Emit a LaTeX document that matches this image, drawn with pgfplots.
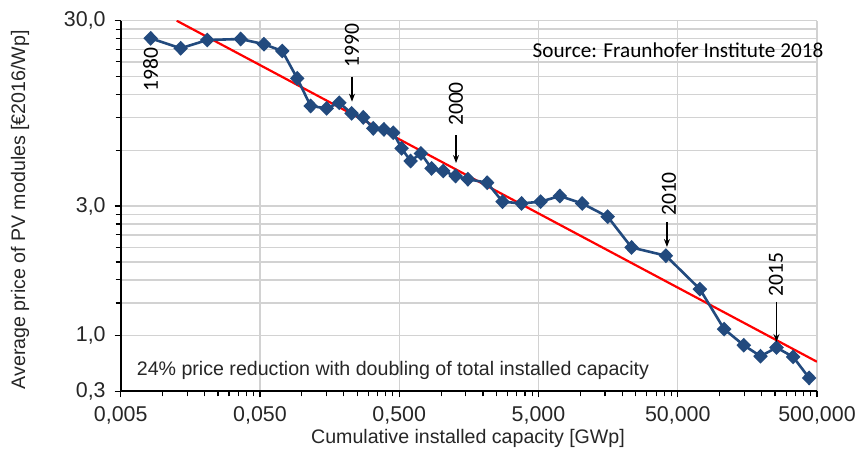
\documentclass[border=0pt]{standalone}
\usepackage{fontspec}
\setmainfont{Liberation Sans}
\newfontfamily\calib{Carlito}
\usepackage{pgfplots}
\pgfplotsset{compat=1.18}
\usetikzlibrary{arrows.meta}
\definecolor{pvblue}{RGB}{34,74,126}
\definecolor{gridgray}{RGB}{210,210,210}

\begin{document}
\begin{tikzpicture}
\path[use as bounding box] (-60.35pt,-31.25pt) rectangle (368.65pt,195.75pt);
\begin{axis}[
  at={(0,0)},anchor=south west,
  scale only axis,width=348.15pt,height=185.4pt,
  xmode=log,ymode=log,
  xmin=0.005,xmax=500,ymin=0.3,ymax=30,
  axis lines=left,axis line style={-,line width=1pt,black},
  xtick={0.005,0.05,0.5,5,50,500},
  xticklabels={{0,005},{0,050},{0,500},{5,000},{50,000},{500,000}},
  minor xtick={0.01,0.015,0.02,0.025,0.03,0.035,0.04,0.045,
               0.1,0.15,0.2,0.25,0.3,0.35,0.4,0.45,
               1,1.5,2,2.5,3,3.5,4,4.5,
               10,15,20,25,30,35,40,45,
               100,150,200,250,300,350,400,450},
  ytick={0.3,0.6,3,30},
  yticklabels={{0,3},{1,0},{3,0},{30,0}},
  minor ytick={0.9,1.2,1.5,1.8,2.1,2.4,2.7,6,9,12,15,18,21,24,27},
  tick align=outside,major tick length=3pt,minor tick length=2.5pt,
  tick style={black,line width=0.6pt},
  xmajorgrids,ymajorgrids,yminorgrids,
  major grid style={gridgray,line width=0.7pt},
  minor grid style={gridgray,line width=0.7pt},
  tick label style={font=\fontsize{10.7}{12}\selectfont,text=black!85},
  /pgf/number format/assume math mode=true,
  xticklabel style={yshift=-1pt},
  yticklabel style={xshift=-1pt},
  label style={font=\fontsize{9.8}{11}\selectfont,text=black!85},
  xlabel={Cumulative installed capacity [GWp]},
  ylabel={Average price of PV modules [€2016/Wp]},
  xlabel style={at={(axis description cs:0.4988,-0.1254)},anchor=center},
  ylabel style={at={(axis description cs:-0.1446,0.49)},anchor=center,rotate=0},
  clip mode=individual,
]
\addplot[red,line width=1.1pt] coordinates {(0.01262,30)(500,0.434)};
\addplot[pvblue,line width=1.3pt,mark=diamond*,mark size=2.8pt,
  mark options={xscale=1.3,fill=pvblue,draw=pvblue}] coordinates {
(0.00821,24.1)(0.01348,21.3)(0.02092,23.6)(0.03635,23.9)(0.0534,22.4)
(0.0723,20.6)(0.0926,14.66)(0.1156,10.4)(0.1506,10.1)(0.1855,10.83)
(0.2275,9.49)(0.276,9.03)(0.3255,7.88)(0.3885,7.78)(0.4528,7.46)
(0.520,6.15)(0.6036,5.25)(0.716,5.77)(0.854,4.79)(1.035,4.64)
(1.27,4.36)(1.556,4.19)(2.141,4.01)(2.76,3.17)(3.78,3.10)
(5.18,3.17)(7.12,3.40)(10.3,3.10)(15.7,2.63)(23.3,1.795)
(41.1,1.62)(72.1,1.07)(107.7,0.651)(149,0.533)(196.5,0.465)
(256,0.518)(337,0.461)(439,0.355)};
% year annotations
\node[rotate=90,font=\calib\fontsize{10.8}{12}\selectfont] at (rel axis cs:0.0428,0.8672) {1980};
\node[rotate=90,font=\calib\fontsize{10.8}{12}\selectfont] at (rel axis cs:0.3322,0.9331) {1990};
\node[rotate=90,font=\calib\fontsize{10.8}{12}\selectfont] at (rel axis cs:0.4816,0.7754) {2000};
\node[rotate=90,font=\calib\fontsize{10.8}{12}\selectfont] at (rel axis cs:0.7874,0.5327) {2010};
\node[rotate=90,font=\calib\fontsize{10.8}{12}\selectfont] at (rel axis cs:0.9411,0.3143) {2015};
\draw[-{Stealth[length=4pt,width=3pt]},line width=0.6pt] (rel axis cs:0.3322,0.8495) -- (rel axis cs:0.3322,0.7816);
\draw[-{Stealth[length=4pt,width=3pt]},line width=0.6pt] (rel axis cs:0.4816,0.6917) -- (rel axis cs:0.4816,0.6162);
\draw[-{Stealth[length=4pt,width=3pt]},line width=0.6pt] (rel axis cs:0.7845,0.4571) -- (rel axis cs:0.7845,0.3897);
\draw[-{Stealth[length=4pt,width=3pt]},line width=0.6pt] (rel axis cs:0.9418,0.2414) -- (rel axis cs:0.9418,0.1335);
\node[font=\calib\fontsize{10.6}{12}\selectfont] at (rel axis cs:0.8004,0.9210) {Source: Fraunhofer Institute 2018};
\node[font=\fontsize{9.8}{11}\selectfont,text=black!85] at (rel axis cs:0.391,0.058) {24\% price reduction with doubling of total installed capacity};
\end{axis}
\end{tikzpicture}
\end{document}
